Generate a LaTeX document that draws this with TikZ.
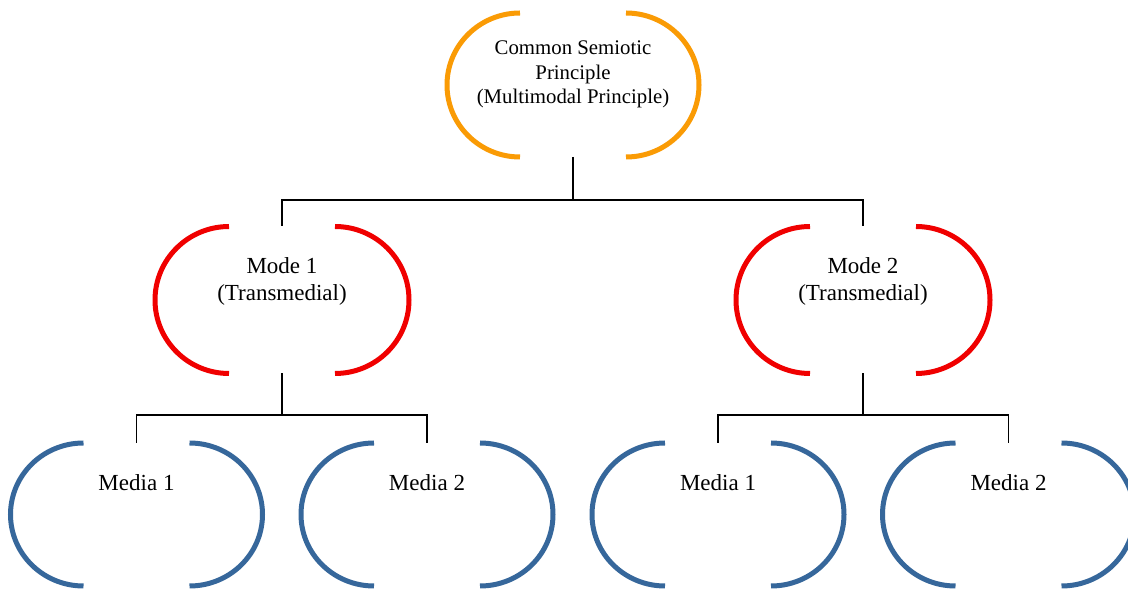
\documentclass[tikz,border=0pt]{standalone}
\usepackage{fontspec}
\setmainfont{Liberation Serif}
\usetikzlibrary{calc}
\definecolor{rootorange}{RGB}{250,155,5}
\definecolor{modered}{RGB}{240,0,0}
\definecolor{mediablue}{RGB}{54,103,155}
% a pair of facing half-ellipses around a node: name, colour, x radius, y radius
\newcommand\drawbrackets[4]{%
  \draw[bracketline,#2] ($(#1.center)+(-53,#4)$) arc[start angle=90,end angle=270,x radius=#3,y radius=#4];
  \draw[bracketline,#2] ($(#1.center)+(53,#4)$) arc[start angle=90,end angle=-90,x radius=#3,y radius=#4];}
\begin{document}
\begin{tikzpicture}[x=1pt,y=1pt,
  holder/.style 2 args={minimum width=#1, minimum height=#2, inner sep=0pt, outer sep=0pt, draw=none},
  bracketline/.style={line width=5pt},
  conn/.style={line width=1.4pt, black},
  lbl/.style={align=center, inner sep=0pt, font=\fontsize{23}{27}\selectfont},
  rootlbl/.style={align=center, inner sep=0pt, font=\fontsize{20.8}{24.5}\selectfont}]
\useasboundingbox (0,0) rectangle (1128,592);
\fill[white] (0,0) rectangle (1128,592);

% shape holders
\node[holder={252}{144}] (root) at (573,507) {};
\node[holder={254}{147}] (mode1) at (282,292) {};
\node[holder={254}{147}] (mode2) at (863,292) {};
\node[holder={252}{143}] (m11) at (136.5,77.5) {};
\node[holder={252}{143}] (m12) at (427,77.5) {};
\node[holder={252}{143}] (m21) at (718,77.5) {};
\node[holder={252}{143}] (m22) at (1008.5,77.5) {};

% outlines
\drawbrackets{root}{rootorange}{73}{72}
\drawbrackets{mode1}{modered}{74}{73.5}
\drawbrackets{mode2}{modered}{74}{73.5}
\drawbrackets{m11}{mediablue}{73}{71.5}
\drawbrackets{m12}{mediablue}{73}{71.5}
\drawbrackets{m21}{mediablue}{73}{71.5}
\drawbrackets{m22}{mediablue}{73}{71.5}

% labels
\node[rootlbl] (rootlbl) at ($(root.center)+(0,10.5)$) {Common Semiotic\\Principle\\(Multimodal Principle)};
\node[lbl] (mode1lbl) at ($(mode1.center)+(0,19)$) {Mode 1\\(Transmedial)};
\node[lbl] (mode2lbl) at ($(mode2.center)+(0,19)$) {Mode 2\\(Transmedial)};
\node[lbl] (m11lbl) at ($(m11.center)+(0,32)$) {Media 1};
\node[lbl] (m12lbl) at ($(m12.center)+(0,32)$) {Media 2};
\node[lbl] (m21lbl) at ($(m21.center)+(0,32)$) {Media 1};
\node[lbl] (m22lbl) at ($(m22.center)+(0,32)$) {Media 2};

% tree connectors
\draw[conn] (root.south) -- ++(0,-43) coordinate (j0);
\draw[conn] (j0) -| (mode1.north);
\draw[conn] (j0) -| (mode2.north);
\draw[conn] (mode1.south) -- ++(0,-41.5) coordinate (j1);
\draw[conn] (j1) -| (m11.north);
\draw[conn] (j1) -| (m12.north);
\draw[conn] (mode2.south) -- ++(0,-41.5) coordinate (j2);
\draw[conn] (j2) -| (m21.north);
\draw[conn] (j2) -| (m22.north);
\end{tikzpicture}
\end{document}
